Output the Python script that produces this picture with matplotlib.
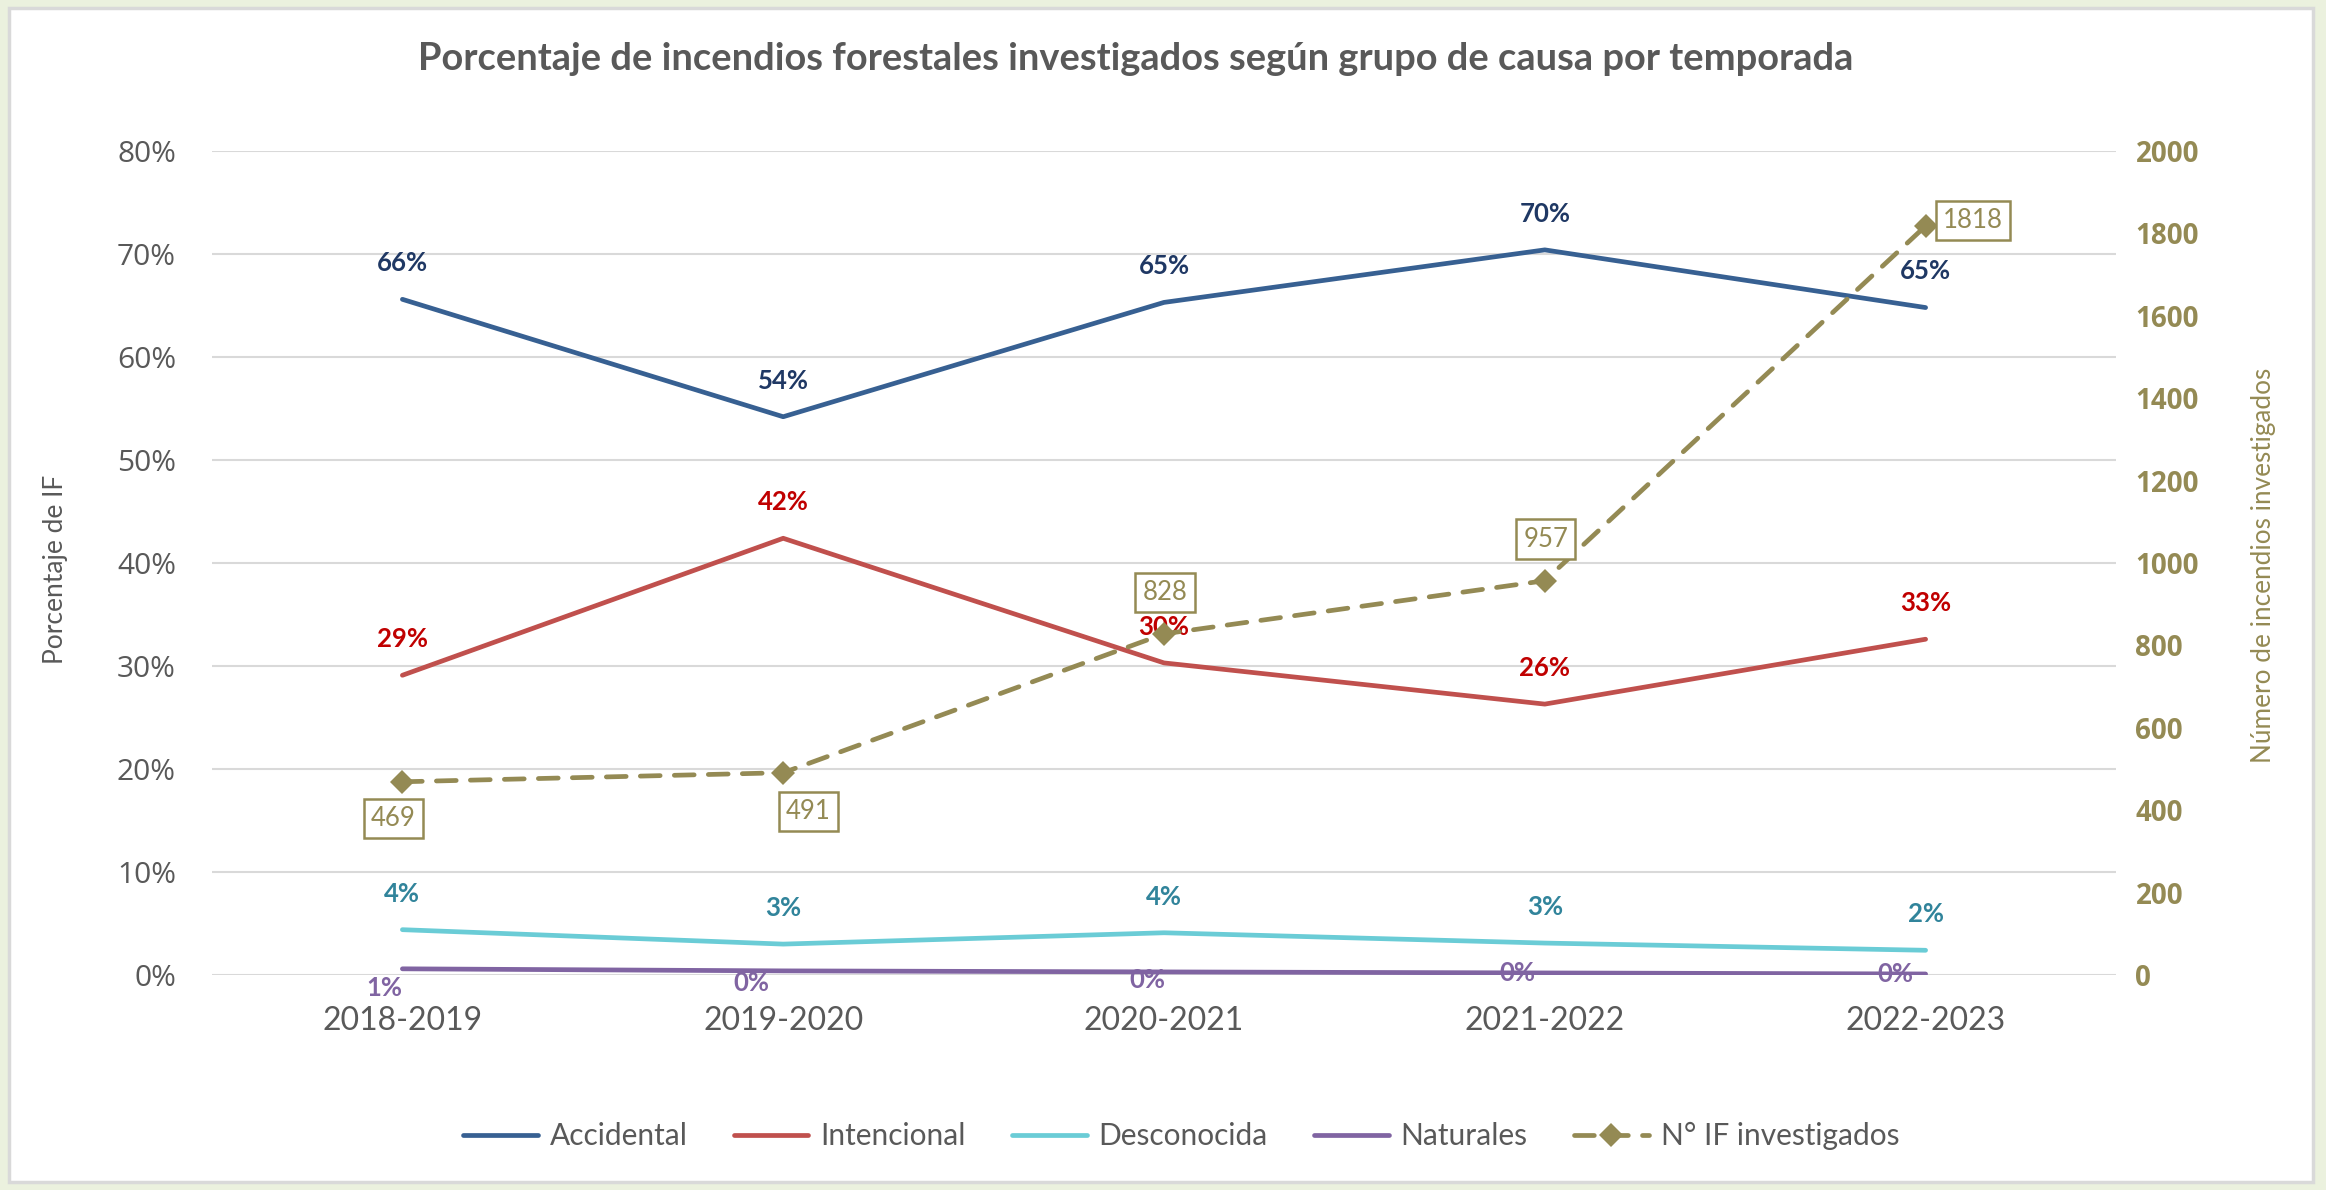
import matplotlib
matplotlib.use("Agg")
import matplotlib.pyplot as plt
from matplotlib.patches import Rectangle
from matplotlib.ticker import PercentFormatter, MultipleLocator

temporadas = ["2018-2019", "2019-2020", "2020-2021", "2021-2022", "2022-2023"]
accidental = [0.656, 0.542, 0.653, 0.704, 0.648]
intencional = [0.291, 0.424, 0.303, 0.263, 0.326]
desconocida = [0.044, 0.030, 0.041, 0.031, 0.024]
naturales = [0.006, 0.004, 0.003, 0.002, 0.001]
n_investigados = [469, 491, 828, 957, 1818]

# label offsets (points) for the purple and boxed labels
off_nat = [(-13, -14), (-23, -9), (-12, -6), (-20, 0), (-22, 0)]
off_nif = [(-6.5, -26.6), (18, -28), (0.7, 30), (0.7, 30), (34, 4)]

plt.rcParams['font.family'] = ['Lato', 'DejaVu Sans']
gris = '#595959'
oliva = '#948A54'

W, H = 2326, 1190
fig = plt.figure(figsize=(W / 100, H / 100), dpi=100)
fig.patch.set_facecolor('#EBF1DE')
fondo = Rectangle((9 / W, 1 - 1182 / H), (2313 - 9) / W, (1182 - 8) / H,
                  transform=fig.transFigure, facecolor='white',
                  edgecolor='#D9D9D9', lw=2.5, zorder=-10)
fig.add_artist(fondo)

ax = fig.add_axes([212 / W, 1 - 975 / H, (2116 - 212) / W, (975 - 151) / H])
ax.set_facecolor('none')
ax2 = ax.twinx()

x = list(range(len(temporadas)))
series = [
    ("Accidental", accidental, '#376092', '#1F3864'),
    ("Intencional", intencional, '#C0504D', '#C00000'),
    ("Desconocida", desconocida, '#6ACCD6', '#31849B'),
    ("Naturales", naturales, '#8064A2', '#8064A2'),
]
handles = []
for nombre, vals, col, lcol in series:
    h, = ax.plot(x, vals, color=col, lw=3.4, solid_capstyle='round',
                 solid_joinstyle='round', zorder=3, label=nombre)
    handles.append(h)
    for i, v in enumerate(vals):
        if nombre == "Naturales":
            dx, dy = off_nat[i]
            z = 2
        else:
            dx, dy = 0, 26
            z = 4
        ax.annotate(f"{v * 100:.0f}%", (i, v), xytext=(dx, dy),
                    textcoords='offset points', ha='center', va='center',
                    fontsize=18.5, fontweight='bold', color=lcol, zorder=z)

h2, = ax2.plot(x, n_investigados, color=oliva, lw=3.4, dashes=(4.2, 3.0),
               dash_capstyle='round', marker='D', markersize=12,
               markeredgewidth=0, label="N° IF investigados", zorder=3)
handles.append(h2)
for i, v in enumerate(n_investigados):
    dx, dy = off_nif[i]
    ax2.annotate(f"{v}", (i, v), xytext=(dx, dy), textcoords='offset points',
                 ha='center', va='center', fontsize=18.5, color=oliva,
                 bbox=dict(boxstyle='square,pad=0.28', fc='white', ec=oliva, lw=1.8),
                 zorder=5)

ax.set_xlim(-0.5, 4.5)
ax.set_ylim(0, 0.8)
ax2.set_ylim(0, 2000)
ax.yaxis.set_major_locator(MultipleLocator(0.1))
ax.yaxis.set_major_formatter(PercentFormatter(1.0, decimals=0))
ax2.yaxis.set_major_locator(MultipleLocator(200))
ax.set_xticks(x)
ax.set_xticklabels(temporadas, fontsize=23, color=gris)
ax.tick_params(axis='x', length=0, pad=22)
ax.tick_params(axis='y', length=0, pad=26, labelcolor=gris)
for t in ax.get_yticklabels():
    t.set_fontfamily('Open Sans')
    t.set_fontsize(21.5)
ax2.tick_params(axis='y', length=0, pad=14, labelcolor=oliva)
for t in ax2.get_yticklabels():
    t.set_fontfamily('Open Sans')
    t.set_fontsize(20)
    t.set_fontweight('bold')

ax.grid(axis='y', color='#D9D9D9', lw=1.5, zorder=0)
ax.set_axisbelow(True)
for a in (ax, ax2):
    for s in a.spines.values():
        s.set_visible(False)

fig.text(1136 / W, 1 - 59 / H,
         "Porcentaje de incendios forestales investigados según grupo de causa por temporada",
         ha='center', va='center', fontsize=27.4, fontweight='bold', color=gris)
fig.text(55 / W, 1 - 569 / H, "Porcentaje de IF", rotation=90,
         ha='center', va='center', fontsize=19, color=gris)
fig.text(2263 / W, 1 - 565 / H, "Número de incendios investigados", rotation=90,
         ha='center', va='center', fontsize=18.8, color=oliva)

fig.legend(handles, [h.get_label() for h in handles], loc='center',
           bbox_to_anchor=(1181 / W, 1 - 1136 / H), ncol=5, frameon=False,
           fontsize=21.5, handlelength=2.5, handletextpad=0.4, columnspacing=1.55,
           labelcolor=gris)

fig.savefig('out.png', dpi=100)
